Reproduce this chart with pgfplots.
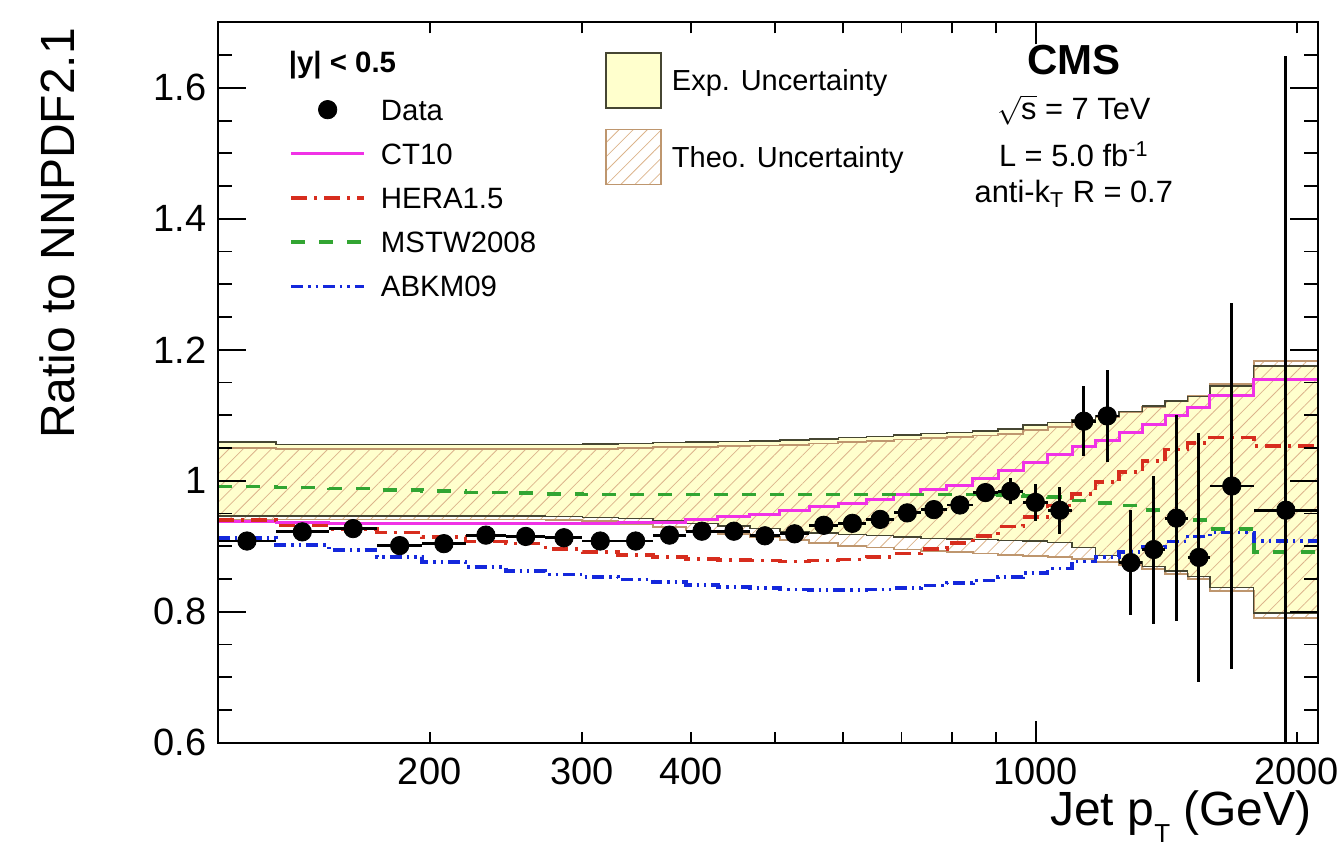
\documentclass[border=0pt]{standalone}
\usepackage{fontspec}
\setmainfont{Liberation Sans}
\usepackage{pgfplots}
\pgfplotsset{compat=1.18}
\usepackage{pgfplotstable}
\usepgfplotslibrary{fillbetween}
\usetikzlibrary{patterns.meta}

\definecolor{expfill}{RGB}{255,255,205}
\definecolor{expline}{RGB}{70,70,50}
\definecolor{theohatch}{RGB}{220,180,140}
\definecolor{theoline}{RGB}{190,150,110}
\definecolor{ctcol}{RGB}{240,50,230}
\definecolor{heracol}{RGB}{215,45,30}
\definecolor{mstwcol}{RGB}{50,165,50}
\definecolor{abkmcol}{RGB}{20,40,220}

\pgfplotstableread{
x expup explo thup thlo ct hera mstw abkm
114 1.059 0.946 1.050 0.941 0.938 0.940 0.991 0.913
133 1.055 0.946 1.048 0.941 0.936 0.932 0.990 0.902
153 1.055 0.946 1.048 0.941 0.935 0.926 0.988 0.894
174 1.055 0.946 1.048 0.941 0.934 0.921 0.986 0.884
196 1.055 0.946 1.048 0.941 0.934 0.914 0.984 0.876
220 1.055 0.946 1.048 0.941 0.934 0.907 0.982 0.868
245 1.055 0.946 1.048 0.941 0.934 0.904 0.981 0.862
272 1.055 0.945 1.048 0.940 0.934 0.896 0.980 0.857
300 1.056 0.944 1.049 0.938 0.935 0.891 0.979 0.853
330 1.057 0.942 1.050 0.934 0.936 0.887 0.979 0.849
362 1.058 0.939 1.051 0.929 0.937 0.884 0.979 0.845
395 1.059 0.935 1.052 0.924 0.941 0.881 0.979 0.841
430 1.060 0.931 1.053 0.919 0.945 0.879 0.979 0.838
468 1.061 0.927 1.054 0.914 0.949 0.878 0.979 0.836
507 1.062 0.923 1.055 0.909 0.954 0.877 0.979 0.834
548 1.064 0.920 1.057 0.905 0.960 0.878 0.979 0.833
592 1.066 0.918 1.059 0.901 0.966 0.880 0.979 0.833
638 1.068 0.916 1.061 0.898 0.972 0.884 0.979 0.834
686 1.070 0.914 1.063 0.895 0.979 0.889 0.979 0.836
737 1.072 0.912 1.065 0.893 0.986 0.896 0.979 0.840
790 1.074 0.911 1.067 0.891 0.993 0.905 0.979 0.844
846 1.076 0.910 1.069 0.889 1.003 0.916 0.979 0.848
905 1.079 0.909 1.072 0.887 1.015 0.930 0.978 0.853
967 1.085 0.908 1.077 0.885 1.028 0.945 0.977 0.859
1032 1.089 0.906 1.082 0.883 1.040 0.962 0.975 0.866
1101 1.093 0.898 1.090 0.880 1.052 0.980 0.970 0.877
1172 1.099 0.886 1.097 0.876 1.062 0.998 0.966 0.884
1248 1.106 0.876 1.105 0.871 1.074 1.013 0.962 0.891
1327 1.114 0.869 1.113 0.865 1.086 1.030 0.955 0.899
1410 1.122 0.862 1.121 0.858 1.100 1.048 0.948 0.907
1497 1.129 0.854 1.130 0.850 1.112 1.058 0.940 0.915
1588 1.145 0.837 1.148 0.832 1.130 1.066 0.926 0.921
1784 1.175 0.798 1.183 0.790 1.155 1.053 0.891 0.908
2116 1.175 0.798 1.183 0.790 1.155 1.053 0.891 0.908
}\theory

\pgfplotstableread{
x y exl exh ey
123.1 0.908 9.1 9.9 0.004
142.6 0.922 9.6 10.4 0.004
163.2 0.927 10.2 10.8 0.004
184.7 0.901 10.7 11.3 0.004
207.7 0.904 11.7 12.3 0.004
232.2 0.917 12.2 12.8 0.004
258.1 0.915 13.1 13.9 0.004
285.7 0.913 13.7 14.3 0.004
314.6 0.908 14.6 15.4 0.004
345.6 0.908 15.6 16.4 0.004
378.1 0.917 16.1 16.9 0.004
412.1 0.923 17.1 17.9 0.004
448.6 0.923 18.6 19.4 0.004
487.1 0.916 19.1 19.9 0.004
527.1 0.919 20.1 20.9 0.005
569.6 0.932 21.6 22.4 0.005
614.6 0.935 22.6 23.4 0.005
661.6 0.941 23.6 24.4 0.006
711.0 0.951 25.0 26.0 0.007
763.0 0.956 26.0 27.0 0.008
817.5 0.963 27.5 28.5 0.010
875.0 0.982 29.0 30.0 0.014
935.5 0.984 30.5 31.5 0.020
999.0 0.967 32.0 33.0 0.028
1066 0.955 34 35 0.036
1136 1.091 35 36 0.053
1209 1.099 37 39 0.070
1287 0.875 39 40 0.080
1368 0.895 41 42 0.113
1453 0.943 43 44 0.157
1542 0.883 45 46 0.190
1683 0.992 95 101 0.280
1943 0.955 159 173 0.693
}\data

\begin{document}
\begin{tikzpicture}
% main data axis (log x)
\begin{axis}[
  at={(0pt,0pt)}, anchor=south west,
  scale only axis, width=550pt, height=360.15pt,
  xmode=log, xmin=114, xmax=2116, ymin=0.6, ymax=1.7,
  axis line style={line width=1pt},
  xtick=\empty, ytick=\empty,
  xlabel={Jet p\raisebox{-8.5pt}{\fontsize{13}{13}\selectfont T} (GeV)},
  ylabel={Ratio to NNPDF2.1},
  label style={font=\fontsize{24}{28}\selectfont, inner sep=0pt},
  xlabel style={at={(axis description cs:0.9945,-0.1152)}, anchor=base east},
  ylabel style={at={(axis description cs:-0.1309,0.9927)}, anchor=base east},
  legend style={at={(axis description cs:0.0645,0.894)}, anchor=north west,
    draw=none, fill=none, inner sep=0pt, row sep=11.6pt,
    font=\fontsize{14.7}{17}\selectfont,
    nodes={inner sep=0pt, text height=10.5pt, text depth=0pt},
    /tikz/every odd column/.append style={column sep=7.5pt}},
  legend cell align=left,
  legend image code/.code={\draw[mark repeat=2,mark phase=2,#1] plot coordinates {(0pt,0pt) (18.25pt,0pt) (36.5pt,0pt)};},
]
\addplot[draw=none, const plot, forget plot, name path=eu] table[x=x,y=expup]{\theory};
\addplot[draw=none, const plot, forget plot, name path=el] table[x=x,y=explo]{\theory};
\addplot[fill=expfill, draw=none, forget plot] fill between[of=eu and el];
\addplot[draw=none, const plot, forget plot, name path=tu] table[x=x,y=thup]{\theory};
\addplot[draw=none, const plot, forget plot, name path=tl] table[x=x,y=thlo]{\theory};
\addplot[pattern={Lines[angle=45,distance=5pt,line width=0.4pt]}, pattern color=theohatch, draw=none, forget plot] fill between[of=tu and tl];
\addplot[theoline, line width=0.9pt, const plot, forget plot] table[x=x,y=thup]{\theory};
\addplot[theoline, line width=0.9pt, const plot, forget plot] table[x=x,y=thlo]{\theory};
\addplot[expline, line width=0.7pt, const plot, forget plot] table[x=x,y=expup]{\theory};
\addplot[expline, line width=0.7pt, const plot, forget plot] table[x=x,y=explo]{\theory};

\addlegendimage{only marks, mark=*, mark size=4.6pt, black}
\addlegendentry{Data}
\addplot[ctcol, line width=1.5pt, const plot] table[x=x,y=ct]{\theory};
\addlegendentry{CT10}
\addplot[heracol, line width=1.8pt, const plot, dash pattern=on 8pt off 3.5pt on 1.5pt off 3.5pt] table[x=x,y=hera]{\theory};
\addlegendentry{HERA1.5}
\addplot[mstwcol, line width=1.8pt, const plot, dash pattern=on 7pt off 7pt] table[x=x,y=mstw]{\theory};
\addlegendentry{MSTW2008}
\addplot[abkmcol, line width=1.8pt, const plot, dash pattern=on 6pt off 2.5pt on 1.2pt off 2.5pt on 1.2pt off 2.5pt] table[x=x,y=abkm]{\theory};
\addlegendentry{ABKM09}

\addplot[only marks, mark=*, mark size=4.6pt, black, forget plot,
  error bars/.cd, x dir=both, x explicit, y dir=both, y explicit, error mark=none,
  error bar style={line width=1.4pt, black}]
  table[x=x, y=y, x error minus=exl, x error plus=exh, y error=ey]{\data};

\node[anchor=base west, font=\bfseries\fontsize{14.7}{17}\selectfont] at (axis description cs:0.058,0.930) {|y| < 0.5};
\node[anchor=base, font=\bfseries\fontsize{21}{24}\selectfont] at (axis description cs:0.778,0.9274) {CMS};
\node[anchor=base, font=\fontsize{15.4}{18}\selectfont] at (axis description cs:0.778,0.8649) {$\sqrt{\mbox{s}}$ = 7 TeV};
\node[anchor=base, font=\fontsize{15.4}{18}\selectfont] at (axis description cs:0.778,0.7998) {L = 5.0 fb\textsuperscript{-1}};
\node[anchor=base, font=\fontsize{15.4}{18}\selectfont] at (axis description cs:0.778,0.7497) {anti-k\textsubscript{T} R = 0.7};
\end{axis}

% y ticks and labels
\begin{axis}[
  at={(0pt,0pt)}, anchor=south west,
  scale only axis, width=550pt, height=360.15pt,
  xmin=0, xmax=1, ymin=0.6, ymax=1.7,
  axis line style={line width=1pt},
  tick align=inside, tick style={black, line width=0.9pt},
  major tick length=14pt, minor tick length=7pt,
  xtick=\empty,
  ytick={0.6,0.8,1,1.2,1.4,1.6},
  yticklabels={0.6,0.8,1,1.2,1.4,1.6},
  minor ytick={0.65,0.7,0.75,0.85,0.9,0.95,1.05,1.1,1.15,1.25,1.3,1.35,1.45,1.5,1.55,1.65},
  tick label style={font=\fontsize{19}{22}\selectfont},
  yticklabel style={inner sep=0pt, xshift=-5.5pt},
]
\addplot[draw=none, forget plot] coordinates {(0,0.6) (1,1.7)};
\end{axis}

% x ticks along the bottom (log10 of pT in GeV), drawn as grid lines of a thin strip axis, with labels
\begin{axis}[
  at={(0pt,0pt)}, anchor=south west,
  scale only axis, width=550pt, height=5.5pt,
  xmin=2.056905, xmax=3.325516, ymin=0, ymax=1,
  axis line style={draw=none}, major tick length=0pt,
  ytick=\empty,
  xtick={2.301030,2.477121,2.602060,2.698970,2.778151,2.845098,2.903090,2.954243,3,3.301030},
  xticklabels={200,300,400,{},{},{},{},{},1000,2000},
  xmajorgrids=true, major grid style={black, line width=0.9pt},
  tick label style={font=\fontsize{19}{22}\selectfont},
  xticklabel style={inner sep=0pt, yshift=-7.5pt},
]
\addplot[draw=none, forget plot] coordinates {(2.1,0) (3.3,1)};
\end{axis}
% same ticks along the top
\begin{axis}[
  at={(0pt,360.15pt)}, anchor=north west,
  scale only axis, width=550pt, height=5.5pt,
  xmin=2.056905, xmax=3.325516, ymin=0, ymax=1,
  axis line style={draw=none}, major tick length=0pt,
  ytick=\empty,
  xtick={2.301030,2.477121,2.602060,2.698970,2.778151,2.845098,2.903090,2.954243,3,3.301030},
  xticklabels={},
  xmajorgrids=true, major grid style={black, line width=0.9pt},
]
\addplot[draw=none, forget plot] coordinates {(2.1,0) (3.3,1)};
\end{axis}
% long tick at 1000, bottom and top
\begin{axis}[
  at={(0pt,0pt)}, anchor=south west,
  scale only axis, width=550pt, height=11pt,
  xmin=2.056905, xmax=3.325516, ymin=0, ymax=1,
  axis line style={draw=none}, major tick length=0pt,
  ytick=\empty, xtick={3}, xticklabels={},
  xmajorgrids=true, major grid style={black, line width=0.9pt},
]
\addplot[draw=none, forget plot] coordinates {(2.1,0) (3.3,1)};
\end{axis}
\begin{axis}[
  at={(0pt,360.15pt)}, anchor=north west,
  scale only axis, width=550pt, height=11pt,
  xmin=2.056905, xmax=3.325516, ymin=0, ymax=1,
  axis line style={draw=none}, major tick length=0pt,
  ytick=\empty, xtick={3}, xticklabels={},
  xmajorgrids=true, major grid style={black, line width=0.9pt},
]
\addplot[draw=none, forget plot] coordinates {(2.1,0) (3.3,1)};
\end{axis}

% band legend
\begin{axis}[
  at={(0pt,0pt)}, anchor=south west,
  scale only axis, width=550pt, height=360.15pt,
  xmin=0, xmax=1, ymin=0, ymax=1,
  axis line style={draw=none},
  xtick=\empty, ytick=\empty,
  legend style={at={(axis description cs:0.3518,0.9593)}, anchor=north west,
    draw=none, fill=none, inner sep=0pt, row sep=10pt,
    font=\fontsize{14.5}{17}\selectfont,
    nodes={inner sep=0pt, text height=10.4pt, text depth=0pt},
    /tikz/every odd column/.append style={column sep=5pt}},
  legend cell align=left,
  legend image code/.code={\draw[#1] (0pt,-13.75pt) rectangle (27.5pt,13.75pt);},
]
\addplot[draw=none, forget plot] coordinates {(0.1,0.1) (0.9,0.9)};
\addlegendimage{fill=expfill, draw=expline, line width=0.8pt}
\addlegendentry{Exp. Uncertainty}
\addlegendimage{pattern={Lines[angle=45,distance=5pt,line width=0.4pt]}, pattern color=theohatch, draw=theoline, line width=0.8pt}
\addlegendentry{Theo. Uncertainty}
\end{axis}
\path (-109pt,-52.5pt) rectangle (562pt,371.35pt);
\end{tikzpicture}
\end{document}
